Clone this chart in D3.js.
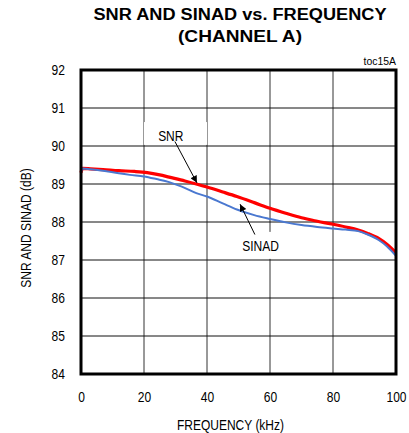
<!DOCTYPE html>
<html>
<head>
<meta charset="utf-8">
<script src="https://cdn.jsdelivr.net/npm/d3@7"></script>
<style>
  html, body { margin: 0; padding: 0; background: #fff; }
  svg { display: block; }
  text { font-family: "Liberation Sans", Arial, sans-serif; fill: #000; }
  .title { font-weight: bold; }
</style>
</head>
<body>
<svg id="chart" width="409" height="433"></svg>
<script>
// ---- Data ----
const titleLines = ["SNR AND SINAD vs. FREQUENCY", "(CHANNEL A)"];
const xLabel = "FREQUENCY (kHz)";
const yLabel = "SNR AND SINAD (dB)";
const tocLabel = "toc15A";
const xTicks = [0, 20, 40, 60, 80, 100];
const yTicks = [84, 85, 86, 87, 88, 89, 90, 91, 92];

const snrFreq  = [0, 0.5, 3, 7, 12, 17, 21, 25, 28, 33, 36.6, 40, 45, 49.5, 55, 60, 65, 70, 75, 80, 84, 88, 91, 94.6, 97, 100];
const snrVals  = [89.30, 89.41, 89.40, 89.38, 89.35, 89.33, 89.30, 89.24, 89.18, 89.08, 89.00, 88.92, 88.79, 88.67, 88.51, 88.36, 88.23, 88.11, 88.02, 87.94, 87.87, 87.79, 87.70, 87.56, 87.42, 87.19];

const sinadFreq = [0, 0.5, 3, 7, 12, 15.5, 20, 24, 28, 32, 36.6, 40, 45, 49.5, 55, 60, 65, 70, 75, 80, 84, 88, 91, 94.6, 97, 100];
const sinadVals = [89.30, 89.41, 89.39, 89.35, 89.28, 89.24, 89.20, 89.13, 89.05, 88.93, 88.76, 88.67, 88.49, 88.33, 88.18, 88.08, 87.99, 87.92, 87.87, 87.83, 87.80, 87.76, 87.67, 87.52, 87.37, 87.11];

// annotations (data coordinates)
const annotations = [
  { text: "SNR",   lx: 28.5, ly: 90.14, box: [20, 40, 90.63, 90.03], from: [29.8, 90.12], to: [36.8, 89.03] },
  { text: "SINAD", lx: 57, ly: 87.25, box: [41, 73.5, 87.74, 87.03], from: [55.2, 87.67], to: [50.5, 88.47] }
];

// ---- Layout ----
const svg = d3.select("#chart");
const plot = { left: 81, right: 396, top: 70, bottom: 374 };

const x = d3.scaleLinear().domain([0, 100]).range([plot.left, plot.right]);
const y = d3.scaleLinear().domain([84, 92]).range([plot.bottom, plot.top]);

// horizontally condensed text (like Arial Narrow)
function narrow(sel, k = 0.8) {
  sel.each(function () {
    const l = this.getComputedTextLength();
    this.setAttribute("textLength", (l * k).toFixed(1));
    this.setAttribute("lengthAdjust", "spacingAndGlyphs");
  });
}

// Title
svg.append("text").attr("class", "title")
  .attr("x", 240).attr("y", 20).attr("text-anchor", "middle")
  .attr("font-size", 16).attr("textLength", 293).attr("lengthAdjust", "spacingAndGlyphs")
  .text(titleLines[0]);
svg.append("text").attr("class", "title")
  .attr("x", 240).attr("y", 42).attr("text-anchor", "middle")
  .attr("font-size", 16).attr("textLength", 124).attr("lengthAdjust", "spacingAndGlyphs")
  .text(titleLines[1]);

// toc label
svg.append("text")
  .attr("x", plot.right).attr("y", 65).attr("text-anchor", "end")
  .attr("font-size", 11)
  .text(tocLabel).call(narrow, 0.95);

// Grid
const grid = svg.append("g");
grid.selectAll("line.v").data(xTicks.slice(1, -1)).enter().append("line")
  .attr("x1", d => x(d)).attr("x2", d => x(d))
  .attr("y1", plot.top).attr("y2", plot.bottom)
  .attr("stroke", "#333").attr("stroke-width", 1);
grid.selectAll("line.h").data(yTicks.slice(1, -1)).enter().append("line")
  .attr("x1", plot.left).attr("x2", plot.right)
  .attr("y1", d => y(d)).attr("y2", d => y(d))
  .attr("stroke", "#111").attr("stroke-width", 1);

// Annotation boxes (white, cover gridlines)
svg.append("g").selectAll("rect").data(annotations).enter().append("rect")
  .attr("x", d => x(d.box[0])).attr("width", d => x(d.box[1]) - x(d.box[0]))
  .attr("y", d => y(d.box[2])).attr("height", d => y(d.box[3]) - y(d.box[2]))
  .attr("fill", "#fff");

// Curves
const line = d3.line().curve(d3.curveMonotoneX);
svg.append("path")
  .attr("d", line(snrFreq.map((f, i) => [x(f), y(snrVals[i])])))
  .attr("fill", "none").attr("stroke", "#ff0000").attr("stroke-width", 3.2);
svg.append("path")
  .attr("d", line(sinadFreq.map((f, i) => [x(f), y(sinadVals[i])])))
  .attr("fill", "none").attr("stroke", "#4a78d0").attr("stroke-width", 2);

// Arrows
const defs = svg.append("defs");
defs.append("marker").attr("id", "arrow")
  .attr("viewBox", "0 0 10 10").attr("refX", 10).attr("refY", 5)
  .attr("markerWidth", 9).attr("markerHeight", 7).attr("markerUnits", "userSpaceOnUse")
  .attr("orient", "auto")
  .append("path").attr("d", "M0,0 L10,5 L0,10 Z").attr("fill", "#000");

const ann = svg.append("g");
ann.selectAll("line").data(annotations).enter().append("line")
  .attr("x1", d => x(d.from[0])).attr("y1", d => y(d.from[1]))
  .attr("x2", d => x(d.to[0])).attr("y2", d => y(d.to[1]))
  .attr("stroke", "#000").attr("stroke-width", 1)
  .attr("marker-end", "url(#arrow)");
ann.selectAll("text").data(annotations).enter().append("text")
  .attr("x", d => x(d.lx)).attr("y", d => y(d.ly))
  .attr("text-anchor", "middle").attr("font-size", 15)
  .text(d => d.text).call(narrow);

// Frame
svg.append("rect")
  .attr("x", plot.left).attr("y", plot.top)
  .attr("width", plot.right - plot.left).attr("height", plot.bottom - plot.top)
  .attr("fill", "none").attr("stroke", "#000").attr("stroke-width", 3);

// Axes (labels only, via d3 axes)
const xAxis = svg.append("g").attr("transform", `translate(0,${plot.bottom})`)
  .call(d3.axisBottom(x).tickValues(xTicks).tickSize(0).tickPadding(17).tickFormat(d3.format("d")));
const yAxis = svg.append("g").attr("transform", `translate(${plot.left},0)`)
  .call(d3.axisLeft(y).tickValues(yTicks).tickSize(0).tickPadding(16).tickFormat(d3.format("d")));
[xAxis, yAxis].forEach(g => {
  g.select(".domain").remove();
  g.selectAll("text").attr("font-size", 15)
    .attr("font-family", "'Liberation Sans',Arial,sans-serif")
    .attr("fill", "#000")
    .call(narrow);
});

// Axis titles
svg.append("text")
  .attr("x", (plot.left + plot.right) / 2 - 8).attr("y", 430)
  .attr("text-anchor", "middle").attr("font-size", 15)
  .text(xLabel).call(narrow);
svg.append("text")
  .attr("transform", `translate(31,${(plot.top + plot.bottom) / 2 + 6}) rotate(-90)`)
  .attr("text-anchor", "middle").attr("font-size", 15)
  .text(yLabel).call(narrow);
</script>
</body>
</html>
